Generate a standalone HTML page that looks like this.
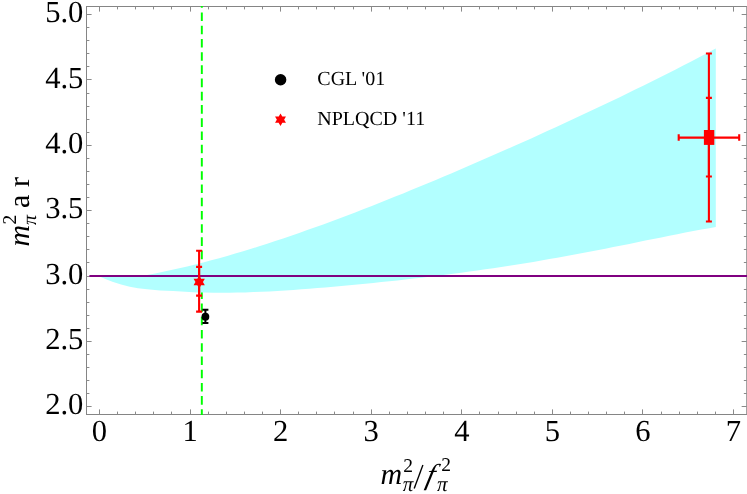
<!DOCTYPE html>
<html><head><meta charset="utf-8"><title>plot</title>
<style>html,body{margin:0;padding:0;background:#fff;}body{width:747px;height:494px;overflow:hidden;}svg{display:block;will-change:transform;}text{font-family:"Liberation Serif",serif;fill:#000;text-rendering:geometricPrecision;}</style>
</head><body>
<svg width="747" height="494" viewBox="0 0 747 494">
<rect x="0" y="0" width="747" height="494" fill="#ffffff"/>
<defs><clipPath id="pc"><rect x="86.5" y="6.0" width="660.75" height="409.0"/></clipPath></defs>
<rect x="86.5" y="6.5" width="660.25" height="408.0" fill="none" stroke="#858585" stroke-width="1"/>
<path d="M99.50,414.5v-5.1M99.50,6.5v5.1M117.50,414.5v-2.9M117.50,6.5v2.9M135.50,414.5v-2.9M135.50,6.5v2.9M153.50,414.5v-2.9M153.50,6.5v2.9M171.50,414.5v-2.9M171.50,6.5v2.9M190.50,414.5v-5.1M190.50,6.5v5.1M208.50,414.5v-2.9M208.50,6.5v2.9M226.50,414.5v-2.9M226.50,6.5v2.9M244.50,414.5v-2.9M244.50,6.5v2.9M262.50,414.5v-2.9M262.50,6.5v2.9M280.50,414.5v-5.1M280.50,6.5v5.1M298.50,414.5v-2.9M298.50,6.5v2.9M316.50,414.5v-2.9M316.50,6.5v2.9M334.50,414.5v-2.9M334.50,6.5v2.9M353.50,414.5v-2.9M353.50,6.5v2.9M371.50,414.5v-5.1M371.50,6.5v5.1M389.50,414.5v-2.9M389.50,6.5v2.9M407.50,414.5v-2.9M407.50,6.5v2.9M425.50,414.5v-2.9M425.50,6.5v2.9M443.50,414.5v-2.9M443.50,6.5v2.9M461.50,414.5v-5.1M461.50,6.5v5.1M479.50,414.5v-2.9M479.50,6.5v2.9M498.50,414.5v-2.9M498.50,6.5v2.9M516.50,414.5v-2.9M516.50,6.5v2.9M534.50,414.5v-2.9M534.50,6.5v2.9M552.50,414.5v-5.1M552.50,6.5v5.1M570.50,414.5v-2.9M570.50,6.5v2.9M588.50,414.5v-2.9M588.50,6.5v2.9M606.50,414.5v-2.9M606.50,6.5v2.9M624.50,414.5v-2.9M624.50,6.5v2.9M642.50,414.5v-5.1M642.50,6.5v5.1M661.50,414.5v-2.9M661.50,6.5v2.9M679.50,414.5v-2.9M679.50,6.5v2.9M697.50,414.5v-2.9M697.50,6.5v2.9M715.50,414.5v-2.9M715.50,6.5v2.9M733.50,414.5v-5.1M733.50,6.5v5.1M86.5,406.50h5.1M746.75,406.50h-5.1M86.5,393.50h2.9M746.75,393.50h-2.9M86.5,380.50h2.9M746.75,380.50h-2.9M86.5,367.50h2.9M746.75,367.50h-2.9M86.5,354.50h2.9M746.75,354.50h-2.9M86.5,341.50h5.1M746.75,341.50h-5.1M86.5,328.50h2.9M746.75,328.50h-2.9M86.5,315.50h2.9M746.75,315.50h-2.9M86.5,302.50h2.9M746.75,302.50h-2.9M86.5,289.50h2.9M746.75,289.50h-2.9M86.5,276.50h5.1M746.75,276.50h-5.1M86.5,262.50h2.9M746.75,262.50h-2.9M86.5,249.50h2.9M746.75,249.50h-2.9M86.5,236.50h2.9M746.75,236.50h-2.9M86.5,223.50h2.9M746.75,223.50h-2.9M86.5,210.50h5.1M746.75,210.50h-5.1M86.5,197.50h2.9M746.75,197.50h-2.9M86.5,184.50h2.9M746.75,184.50h-2.9M86.5,171.50h2.9M746.75,171.50h-2.9M86.5,158.50h2.9M746.75,158.50h-2.9M86.5,145.50h5.1M746.75,145.50h-5.1M86.5,132.50h2.9M746.75,132.50h-2.9M86.5,119.50h2.9M746.75,119.50h-2.9M86.5,106.50h2.9M746.75,106.50h-2.9M86.5,93.50h2.9M746.75,93.50h-2.9M86.5,79.50h5.1M746.75,79.50h-5.1M86.5,66.50h2.9M746.75,66.50h-2.9M86.5,53.50h2.9M746.75,53.50h-2.9M86.5,40.50h2.9M746.75,40.50h-2.9M86.5,27.50h2.9M746.75,27.50h-2.9M86.5,14.50h5.1M746.75,14.50h-5.1" fill="none" stroke="#8a8a8a" stroke-width="1"/>
<g clip-path="url(#pc)"><line x1="201.82" y1="-0.78" x2="201.82" y2="420" stroke="#00ff00" stroke-width="1.95" stroke-dasharray="8.6 4.63"/></g>
<path d="M99.6,275.9 L147.2,274.9 L155.2,273.4 L163.2,271.8 L171.2,270.1 L179.2,268.3 L187.2,266.4 L195.2,264.5 L203.2,262.4 L211.2,260.3 L219.2,258.2 L227.2,255.9 L235.2,253.6 L243.2,251.2 L251.2,248.8 L259.2,246.3 L267.2,243.7 L275.2,241.1 L283.2,238.4 L291.2,235.7 L299.2,232.9 L307.2,230.1 L315.2,227.3 L323.2,224.4 L331.2,221.4 L339.2,218.4 L347.2,215.4 L355.2,212.4 L363.2,209.3 L371.2,206.2 L379.2,203.0 L387.2,199.8 L395.2,196.6 L403.2,193.4 L411.2,190.1 L419.2,186.8 L427.2,183.5 L435.2,180.2 L443.2,176.8 L451.2,173.4 L459.2,170.0 L467.2,166.6 L475.2,163.1 L483.2,159.6 L491.2,156.1 L499.2,152.6 L507.2,149.1 L515.2,145.5 L523.2,142.0 L531.2,138.4 L539.2,134.7 L547.2,131.1 L555.2,127.4 L563.2,123.8 L571.2,120.1 L579.2,116.3 L587.2,112.6 L595.2,108.8 L603.2,105.0 L611.2,101.2 L619.2,97.4 L627.2,93.5 L635.2,89.6 L643.2,85.7 L651.2,81.7 L659.2,77.7 L667.2,73.7 L675.2,69.7 L683.2,65.6 L691.2,61.4 L699.2,57.3 L707.2,53.1 L715.2,48.8 L715.8,48.5 L715.8,227.1 L709.3,228.2 L701.3,229.6 L693.3,231.1 L685.3,232.6 L677.3,234.2 L669.3,235.8 L661.3,237.4 L653.3,239.0 L645.3,240.6 L637.3,242.2 L629.3,243.9 L621.3,245.5 L613.3,247.1 L605.3,248.7 L597.3,250.2 L589.3,251.8 L581.3,253.3 L573.3,254.8 L565.3,256.3 L557.3,257.7 L549.3,259.1 L541.3,260.5 L533.3,261.9 L525.3,263.2 L517.3,264.5 L509.3,265.7 L501.3,267.0 L493.3,268.2 L485.3,269.3 L477.3,270.5 L469.3,271.6 L461.3,272.7 L453.3,273.7 L445.3,274.7 L437.3,275.7 L429.3,276.7 L421.3,277.7 L413.3,278.6 L405.3,279.5 L397.3,280.4 L389.3,281.3 L381.3,282.1 L373.3,282.9 L365.3,283.7 L357.3,284.5 L349.3,285.3 L341.3,286.0 L333.3,286.7 L325.3,287.4 L317.3,288.1 L309.3,288.7 L301.3,289.3 L293.3,289.9 L285.3,290.4 L277.3,290.9 L269.3,291.4 L261.3,291.8 L253.3,292.1 L245.3,292.4 L237.3,292.6 L229.3,292.7 L221.3,292.8 L213.3,292.8 L205.3,292.6 L197.3,292.4 L189.3,292.1 L181.3,291.6 L173.3,291.0 L160.0,290.4 L147.2,289.3 L138.0,288.2 L129.8,286.8 L121.1,284.6 L112.4,281.7 L106.0,279.3 L100.2,276.8 L99.6,275.9Z" fill="#b2ffff" stroke="none"/>
<line x1="89.4" y1="276.0" x2="747.25" y2="276.0" stroke="#800080" stroke-width="1.9"/>
<path d="M205.4,309.8V322.9M202.4,309.8h6M202.4,322.9h6" stroke="#000" stroke-width="2" fill="none"/>
<circle cx="205.4" cy="316.7" r="3.9" fill="#000"/>
<path d="M199.1,250.7V311.6M196.1,250.7h6M196.1,311.6h6" stroke="#ff0000" stroke-width="2.1" fill="none"/>
<path d="M199.1,266.9V295.6M196.1,266.9h6M196.1,295.6h6" stroke="#ff0000" stroke-width="2.1" fill="none"/>
<path d="M199.20,275.60 L193.57,285.35 L204.83,285.35Z M199.20,288.60 L204.83,278.85 L193.57,278.85Z" fill="#ff0000"/>
<path d="M708.9,53.5V221.5M705.9,53.5h6M705.9,221.5h6" stroke="#ff0000" stroke-width="2.1" fill="none"/>
<path d="M708.9,97.9V176.5M705.9,97.9h6M705.9,176.5h6" stroke="#ff0000" stroke-width="2.1" fill="none"/>
<path d="M678.7,137.6H739.2M678.7,134.35v6.5M739.2,134.35v6.5" stroke="#ff0000" stroke-width="2.1" fill="none"/>
<rect x="703.9" y="130" width="10.4" height="14.9" fill="#ff0000"/>
<circle cx="280.6" cy="79.8" r="5.75" fill="#000"/>
<path d="M280.50,113.40 L275.04,122.85 L285.96,122.85Z M280.50,126.00 L285.96,116.55 L275.04,116.55Z" fill="#ff0000"/>
<text x="317.3" y="85.3" font-size="20">CGL '01</text>
<text x="317.3" y="125.1" font-size="20">NPLQCD '11</text>
<text x="83.4" y="414.3" font-size="30.6" text-anchor="end">2.0</text>
<text x="83.4" y="349.0" font-size="30.6" text-anchor="end">2.5</text>
<text x="83.4" y="283.6" font-size="30.6" text-anchor="end">3.0</text>
<text x="83.4" y="218.2" font-size="30.6" text-anchor="end">3.5</text>
<text x="83.4" y="152.9" font-size="30.6" text-anchor="end">4.0</text>
<text x="83.4" y="87.6" font-size="30.6" text-anchor="end">4.5</text>
<text x="83.4" y="22.2" font-size="30.6" text-anchor="end">5.0</text>
<text x="99.5" y="441.3" font-size="30.6" text-anchor="middle">0</text>
<text x="190.1" y="441.3" font-size="30.6" text-anchor="middle">1</text>
<text x="280.6" y="441.3" font-size="30.6" text-anchor="middle">2</text>
<text x="371.2" y="441.3" font-size="30.6" text-anchor="middle">3</text>
<text x="461.8" y="441.3" font-size="30.6" text-anchor="middle">4</text>
<text x="552.3" y="441.3" font-size="30.6" text-anchor="middle">5</text>
<text x="642.9" y="441.3" font-size="30.6" text-anchor="middle">6</text>
<text x="733.5" y="441.3" font-size="30.6" text-anchor="middle">7</text>
<text x="380.6" y="484.3" font-size="30" font-style="italic">m</text>
<text x="403.2" y="472.4" font-size="19.5">2</text>
<text x="402.8" y="491.2" font-size="21" font-style="italic">π</text>
<line x1="414.2" y1="488.4" x2="422.9" y2="465.0" stroke="#000" stroke-width="1.35"/>
<g transform="translate(429.0,484.3) skewX(-13) scale(1.0,0.96)"><text x="0" y="0" font-size="30" font-style="italic" text-anchor="middle">f</text></g>
<text x="441.3" y="471.3" font-size="19.5">2</text>
<text x="436.9" y="491.2" font-size="21" font-style="italic">π</text>
<g transform="translate(29,246.5) rotate(-90)">
<text x="0" y="0" font-size="30" font-style="italic">m</text>
<text x="22" y="-13.4" font-size="19.5">2</text>
<text x="21.6" y="7.0" font-size="20" font-style="italic">π</text>
<text x="38.5" y="0" font-size="30">a</text>
<text x="59.6" y="0" font-size="30">r</text>
</g>
</svg>
</body></html>
